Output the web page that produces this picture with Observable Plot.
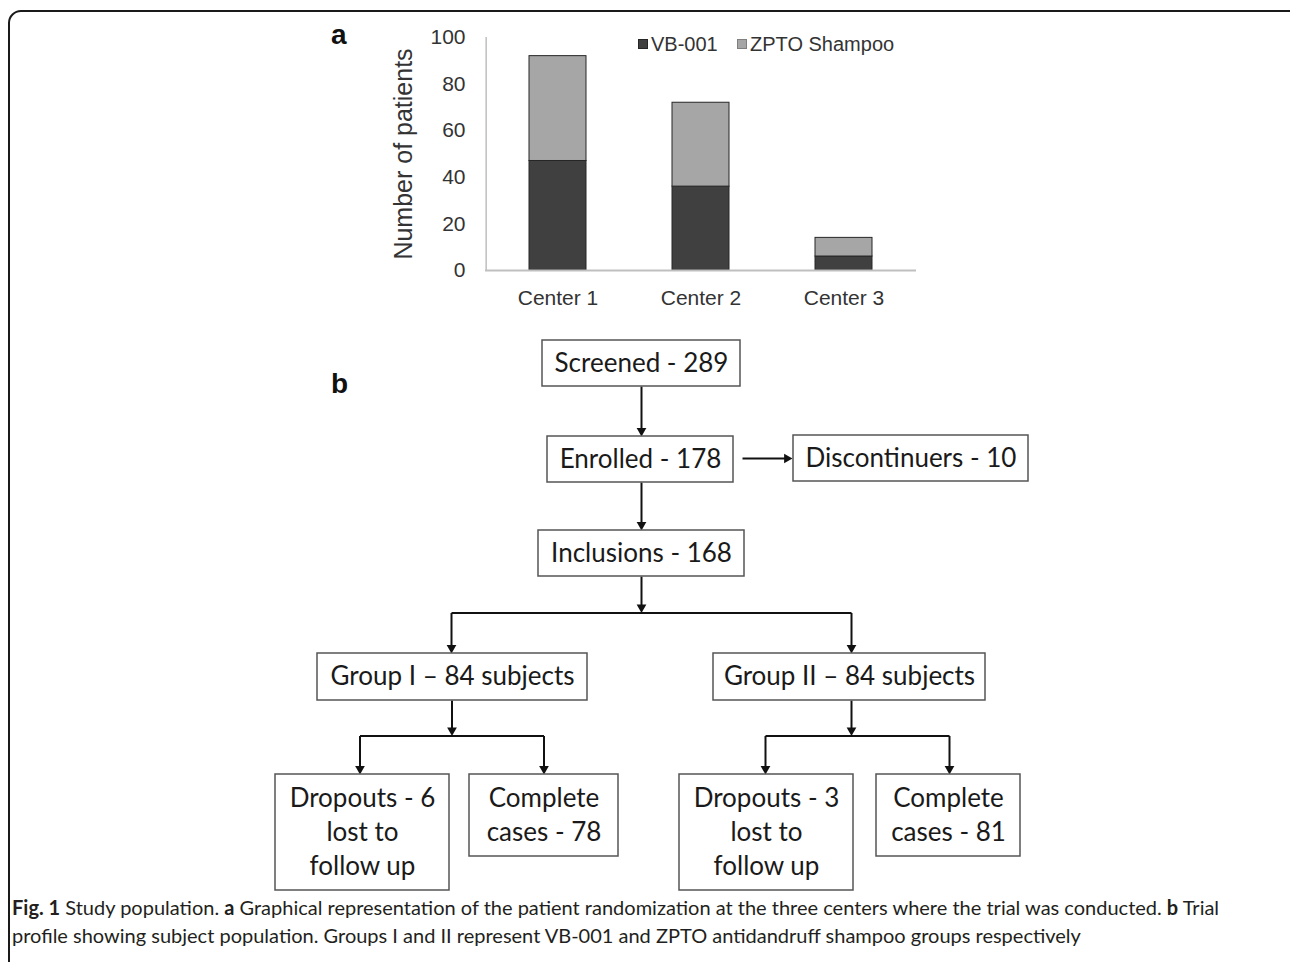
<!DOCTYPE html>
<html>
<head>
<meta charset="utf-8">
<script src="https://cdn.jsdelivr.net/npm/d3@7"></script>
<script src="https://cdn.jsdelivr.net/npm/@observablehq/plot@0.6"></script>
<style>
  html, body { margin: 0; padding: 0; background: #fff; }
  body { width: 1290px; height: 962px; position: relative; overflow: hidden; }
  #frame { position: absolute; left: 8px; top: 10px; width: 1310px; height: 980px;
           border: 2px solid #1a1a1a; border-radius: 13px; box-sizing: border-box; }
  .panel { position: absolute; font-family: "Liberation Sans", Arial, sans-serif; font-weight: bold;
           font-size: 28px; line-height: 28px; color: #111; }
  #bars { position: absolute; left: 0; top: 0; }
  #flow { position: absolute; left: 0; top: 320px; }
  .leg { position: absolute; font-family: "Liberation Sans", Arial, sans-serif; font-size: 20px;
         line-height: 20px; color: #333; white-space: nowrap; }
  .sw { position: absolute; width: 10px; height: 10px; box-sizing: border-box; border: 1px solid #333; }
  #caption { position: absolute; left: 12px; top: 893px; width: 1270px; font-family: Lato, "Open Sans", sans-serif;
             font-size: 20px; line-height: 28px; color: #231f20; white-space: nowrap; }
  #caption b { font-weight: 700; }
</style>
</head>
<body>
<div id="frame"></div>
<div class="panel" style="left:331px; top:21px;">a</div>
<div class="panel" style="left:331px; top:370px;">b</div>
<div id="bars"></div>
<div id="legend"></div>
<div id="flow"></div>
<div id="caption"></div>
<script>
// ---------- data ----------
const centers = ["Center 1", "Center 2", "Center 3"];
const seriesNames = ["VB-001", "ZPTO Shampoo"];
const vb001 = [47, 36, 6];
const zpto = [45, 36, 8];
const yTicks = [0, 20, 40, 60, 80, 100];
const yTitle = "Number of patients";

const flowLabels = [
  "Screened - 289",
  "Enrolled - 178",
  "Discontinuers - 10",
  "Inclusions - 168",
  "Group I \u2013 84 subjects",
  "Group II \u2013 84 subjects",
  "Dropouts - 6\nlost to\nfollow up",
  "Complete\ncases - 78",
  "Dropouts - 3\nlost to\nfollow up",
  "Complete\ncases - 81"
];

const captionLine1 = [["b", "Fig. 1"], ["t", " Study population. "], ["b", "a"], ["t", " Graphical representation of the patient randomization at the three centers where the trial was conducted. "], ["b", "b"], ["t", " Trial"]];
const captionLine2 = "profile showing subject population. Groups I and II represent VB-001 and ZPTO antidandruff shampoo groups respectively";

(function () {
// ---------- panel a: stacked bars ----------
const rows = [];
centers.forEach((c, i) => {
  rows.push({center: c, series: seriesNames[0], value: vb001[i]});
  rows.push({center: c, series: seriesNames[1], value: zpto[i]});
});

const W = 1290, H = 320;
const mL = 485, mR = 374, mT = 37, mB = 50;
const step = (W - mL - mR) / centers.length;
const arial = "'Liberation Sans', Arial, sans-serif";
const axisGray = "#bfbfbf";

const bars = Plot.plot({
  width: W, height: H,
  marginLeft: mL, marginRight: mR, marginTop: mT, marginBottom: mB,
  style: {fontFamily: arial, background: "transparent", color: "#333"},
  x: {domain: centers, paddingInner: 0.6, paddingOuter: 0.3, axis: null, label: null},
  y: {domain: [0, 100], axis: null, label: null},
  color: {domain: seriesNames, range: ["#404040", "#a6a6a6"]},
  marks: [
    Plot.barY(rows, {x: "center", y: "value", fill: "series", stroke: "#262626", strokeWidth: 1}),
    Plot.ruleX([centers[0]], {dx: -0.5 * step, y1: 0, y2: 100, stroke: axisGray, strokeWidth: 1.5}),
    Plot.ruleY([0], {stroke: axisGray, strokeWidth: 2}),
    Plot.axisY({ticks: yTicks, tickSize: 0, tickPadding: 20, fontSize: 21, fill: "#333", label: null}),
    Plot.axisX({tickSize: 0, tickPadding: 20, fontSize: 21, fill: "#333", label: null}),
    Plot.text([yTitle], {frameAnchor: "left", dx: -82, rotate: -90, fontSize: 25, fill: "#333", textAnchor: "middle"})
  ]
});
document.getElementById("bars").appendChild(bars);

// legend (inside plot area, top right)
const legend = document.getElementById("legend");
const legItems = [
  {name: seriesNames[0], color: "#404040", sx: 638, tx: 651},
  {name: seriesNames[1], color: "#a6a6a6", sx: 737, tx: 750}
];
legItems.forEach(d => {
  const s = document.createElement("div");
  s.className = "sw";
  s.style.left = d.sx + "px"; s.style.top = "39px"; s.style.background = d.color;
  s.style.borderColor = d.color === "#404040" ? "#262626" : "#7f7f7f";
  legend.appendChild(s);
  const t = document.createElement("div");
  t.className = "leg";
  t.style.left = d.tx + "px"; t.style.top = "34px";
  t.textContent = d.name;
  legend.appendChild(t);
});

// ---------- panel b: flow chart ----------
const OFF = 320; // svg top in page coords
// layout of boxes (page px): centre x, centre y, width, height
const layout = [
  [641, 363, 198, 46],
  [640, 459, 186, 46],
  [910.5, 458, 235, 46],
  [641, 553, 206, 46],
  [452, 676.5, 270, 47],
  [849, 676.5, 272, 47],
  [362, 832, 174, 116],
  [543.5, 815, 149, 82],
  [766, 832, 174, 116],
  [948, 815, 144, 82]
];
const LINE_GAP = 33.7;
const nodes = flowLabels.map((label, i) => {
  const [cx, cy, w, h] = layout[i];
  return {label, cx, cy: cy - OFF, x1: cx - w / 2, x2: cx + w / 2, y1: cy - h / 2 - OFF, y2: cy + h / 2 - OFF};
});
// one text row per line of each label
const textRows = [];
nodes.forEach(n => {
  const parts = n.label.split("\n");
  parts.forEach((p, k) => {
    textRows.push({text: p, x: n.cx, y: n.cy + (k - (parts.length - 1) / 2) * LINE_GAP});
  });
});
const nTop = i => nodes[i].y1, nBot = i => nodes[i].y2;

const segs = [];
const heads = [];
const TIP = 2 * Math.sqrt((3.6 * 3.6 * Math.PI) / (Math.sqrt(3) * 3));
function arrowDown(x, y1, y2) {
  segs.push({x1: x, y1, x2: x, y2: y2 - 3});
  heads.push({x, y: y2 - TIP, rot: 180});
}
function arrowRight(x1, x2, y) {
  segs.push({x1, y1: y, x2: x2 - 3, y2: y});
  heads.push({x: x2 - TIP, y, rot: 90});
}
function line(x1, y1, x2, y2) { segs.push({x1, y1, x2, y2}); }

arrowDown(641, nBot(0), nTop(1));
arrowRight(nodes[1].x2 + 9, nodes[2].x1 - 1, nodes[1].cy - 1);
arrowDown(641, nBot(1), nTop(3));
const splitA = 612.5 - OFF;
arrowDown(641, nBot(3), splitA);
line(451, splitA, 851, splitA);
arrowDown(451, splitA, nTop(4));
arrowDown(851, splitA, nTop(5));
const splitB = 735.5 - OFF;
arrowDown(451.5, nBot(4), splitB);
line(359.5, splitB, 543.5, splitB);
arrowDown(359.5, splitB, nTop(6));
arrowDown(543.5, splitB, nTop(7));
arrowDown(851, nBot(5), splitB);
line(765, splitB, 949, splitB);
arrowDown(765, splitB, nTop(8));
arrowDown(949, splitB, nTop(9));

const flow = Plot.plot({
  width: 1290, height: 580, margin: 0,
  style: {background: "transparent"},
  x: {type: "identity"}, y: {type: "identity"},
  marks: [
    Plot.link(segs, {x1: "x1", y1: "y1", x2: "x2", y2: "y2", stroke: "#111", strokeWidth: 2}),
    Plot.dot(heads, {x: "x", y: "y", symbol: "triangle", r: 3.6, fill: "#111", stroke: null, rotate: "rot"}),
    Plot.rect(nodes, {x1: "x1", x2: "x2", y1: "y1", y2: "y2", fill: "white", stroke: "#555", strokeWidth: 1.5}),
    Plot.text(textRows, {x: "x", y: "y", text: "text", fontSize: 26, fontFamily: "Lato", fill: "#1a1a1a"})
  ]
});
document.getElementById("flow").appendChild(flow);

// ---------- caption ----------
const cap = document.getElementById("caption");
const l1 = document.createElement("div");
captionLine1.forEach(([k, s]) => {
  const el = document.createElement(k === "b" ? "b" : "span");
  el.textContent = s;
  l1.appendChild(el);
});
const l2 = document.createElement("div");
l2.textContent = captionLine2;
cap.appendChild(l1);
cap.appendChild(l2);
})();
</script>
</body>
</html>
